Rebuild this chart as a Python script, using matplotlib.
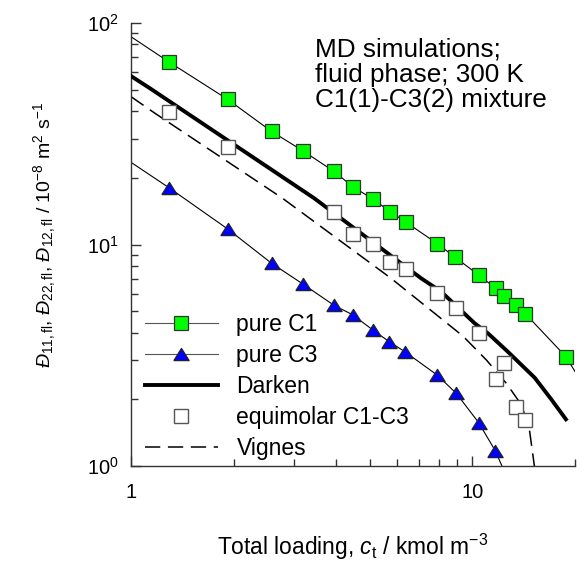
import matplotlib
matplotlib.use("Agg")
import matplotlib.pyplot as plt
from matplotlib.ticker import LogLocator, NullFormatter
from matplotlib.lines import Line2D

plt.rcParams['font.family'] = ['Liberation Sans', 'DejaVu Sans']
plt.rcParams['mathtext.fontset'] = 'custom'
plt.rcParams['mathtext.rm'] = 'Liberation Sans'
plt.rcParams['mathtext.it'] = 'Liberation Sans:italic'
plt.rcParams['mathtext.bf'] = 'Liberation Sans:bold'

# ---- data ----
c1_x = [1.296, 1.920, 2.581, 3.199, 3.928, 4.476, 5.125, 5.751, 6.397, 7.890,
        8.913, 10.44, 11.71, 12.36, 13.41, 14.32, 18.81]
c1_y = [66.5, 45.2, 32.4, 26.4, 21.4, 18.2, 16.0, 14.06, 12.6, 10.1,
        8.75, 7.28, 6.34, 5.87, 5.31, 4.86, 3.115]
c1_line_x = [1.0] + c1_x + [20.0]
c1_line_y = [86.7] + c1_y + [2.67]

c3_x = [1.296, 1.920, 2.581, 3.199, 3.936, 4.458, 5.105, 5.711, 6.366, 7.874,
        8.974, 10.44, 11.69]
c3_y = [17.99, 11.75, 8.23, 6.61, 5.31, 4.82, 4.12, 3.64, 3.27, 2.58,
        2.13, 1.57, 1.169]
c3_line_x = [1.0] + c3_x + [12.25]
c3_line_y = [23.5] + c3_y + [0.99]

eq_x = [1.296, 1.920, 3.94, 4.476, 5.114, 5.746, 6.397, 7.890, 8.943, 10.44,
        12.36, 11.71, 13.43, 14.32]
eq_y = [39.8, 27.5, 13.98, 11.13, 10.03, 8.34, 7.78, 6.02, 5.15, 3.97,
        2.93, 2.48, 1.84, 1.61]

darken_x = [1.0, 1.137, 3.437, 7.08, 8.11, 10.16, 11.12, 12.74, 15.25, 17.08, 18.81]
darken_y = [57.6, 50.7, 16.2, 7.04, 6.12, 4.41, 3.97, 3.27, 2.50, 1.99, 1.625]

vignes_x = [1.0, 1.176, 2.775, 5.778, 9.39, 11.0, 12.59, 13.94, 14.71, 15.22]
vignes_y = [46.5, 39.1, 16.2, 7.04, 3.86, 3.01, 2.36, 1.886, 1.454, 0.99]

labels = ["pure C1", "pure C3", "Darken", "equimolar C1-C3", "Vignes"]
annotation = "MD simulations;\nfluid phase; 300 K\nC1(1)-C3(2) mixture"
xlabel = r"Total loading, $c_\mathrm{t}$ / kmol m$^{-3}$"
ylabel = (r"$\mathit{Đ}_{11,\mathrm{fl}}$, $\mathit{Đ}_{22,\mathrm{fl}}$, "
          r"$\mathit{Đ}_{12,\mathrm{fl}}$ / 10$^{-8}$ m$^{2}$ s$^{-1}$")

tri = [(-1.0, -0.8), (1.0, -0.8), (0.0, 0.8), (-1.0, -0.8)]

fig = plt.figure(figsize=(5.85, 5.65), dpi=100)
ax = fig.add_axes([131/585, 1 - 466/565, 444/585, 443/565])

ax.plot(c1_line_x, c1_line_y, color='black', lw=0.8, zorder=2)
ax.plot(c1_x, c1_y, ls='none', marker='s', ms=10, mfc='#00ff00', mec='#333333',
        mew=0.9, zorder=4)
ax.plot(c3_line_x, c3_line_y, color='black', lw=0.8, zorder=2)
ax.plot(c3_x, c3_y, ls='none', marker=tri, ms=11, mfc='#0000ff', mec='#222222',
        mew=0.9, zorder=4)
ax.plot(darken_x, darken_y, color='black', lw=2.8, zorder=3)
ax.plot(eq_x, eq_y, ls='none', marker='s', ms=10, mfc='white', mec='#555555',
        mew=1.0, zorder=4)
ax.plot(vignes_x, vignes_y, color='black', lw=1.1, ls=(0, (10, 5)), zorder=2)

h = [
    Line2D([], [], color='#555555', lw=0.8, marker='s', ms=10, mfc='#00ff00', mec='#333333', mew=0.9),
    Line2D([], [], color='#555555', lw=0.8, marker=tri, ms=11, mfc='#0000ff', mec='#222222', mew=0.9),
    Line2D([], [], color='black', lw=2.8),
    Line2D([], [], ls='none', marker='s', ms=10, mfc='white', mec='#555555', mew=1.0),
    Line2D([], [], color='black', lw=1.1, ls=(0, (10, 5))),
]
ax.legend(h, labels, loc='lower left', bbox_to_anchor=(0.031, 0.014), frameon=False,
          fontsize=16.5, handlelength=3.2, handletextpad=0.8, labelspacing=0.35,
          borderpad=0, borderaxespad=0, numpoints=1)

ax.set_xscale('log')
ax.set_yscale('log')
ax.set_xlim(1, 20)
ax.set_ylim(1, 100)

ax.spines['top'].set_visible(False)
ax.spines['right'].set_visible(False)
for s in ('left', 'bottom'):
    ax.spines[s].set_linewidth(1.0)
    ax.spines[s].set_color('#333333')

ax.xaxis.set_minor_locator(LogLocator(base=10, subs=range(2, 10)))
ax.yaxis.set_minor_locator(LogLocator(base=10, subs=range(2, 10)))
ax.xaxis.set_minor_formatter(NullFormatter())
ax.yaxis.set_minor_formatter(NullFormatter())
ax.set_xticks([1, 10])
ax.set_xticklabels(['1', '10'])
ax.tick_params(which='major', direction='in', length=7.5, width=1.0, color='#333333', labelsize=14.5)
ax.tick_params(which='minor', direction='in', length=5, width=1.0, color='#333333')
ax.tick_params(axis='x', which='major', pad=12)
ax.tick_params(axis='y', which='major', pad=9)

ax.set_xlabel(xlabel, fontsize=16.4)
ax.xaxis.set_label_coords(0.5, -0.148)
ax.set_ylabel(ylabel, fontsize=14)
ax.yaxis.set_label_coords(-0.165, 0.521)

ax.text(0.414, 0.968, annotation, transform=ax.transAxes, ha='left', va='top',
        fontsize=18.8, linespacing=1.08)

fig.savefig('out.png', dpi=100)
